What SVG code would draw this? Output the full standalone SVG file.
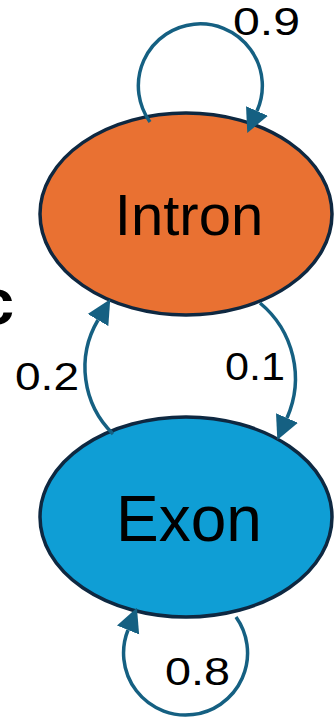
<svg xmlns="http://www.w3.org/2000/svg" width="334" height="718" viewBox="0 0 334 718">
  <style>
    .state { stroke: #0E2841; stroke-width: 3.5; }
    .name { font-family: "Liberation Sans", Arial, sans-serif; fill: #000; text-anchor: middle; }
    .edge { fill: none; stroke: #156082; stroke-width: 3.5; marker-end: url(#head); }
    .prob { font-family: "Liberation Sans", Arial, sans-serif; font-size: 38px; fill: #000; }
    .panel { font-family: "Liberation Sans", Arial, sans-serif; font-size: 64px; font-weight: bold; fill: #000; text-anchor: end; }
  </style>
  <defs>
    <marker id="head" viewBox="0 0 10 10" refX="0" refY="5" markerUnits="userSpaceOnUse" markerWidth="24" markerHeight="25" orient="auto">
      <path d="M0,0 L10,5 L0,10 z" fill="#156082"/>
    </marker>
  </defs>

  <!-- panel letter, partly past the left edge -->
  <text class="panel" x="14" y="324">c</text>

  <g id="intron">
    <ellipse class="state" cx="186" cy="214" rx="146" ry="101" fill="#E97132"/>
    <text class="name" x="189" y="235" font-size="58">Intron</text>
  </g>

  <g id="exon">
    <ellipse class="state" cx="186" cy="517" rx="146" ry="100" fill="#0F9ED5"/>
    <text class="name" x="189" y="541" font-size="64">Exon</text>
  </g>

  <g id="transitions">
    <!-- Intron self-loop -->
    <path class="edge" d="M150,122 A62,62 0 1 1 257,111"/>
    <!-- Intron to Exon -->
    <path class="edge" d="M260,303 A98,98 0 0 1 287,418"/>
    <!-- Exon to Intron -->
    <path class="edge" d="M113,434 A93,93 0 0 1 98,320"/>
    <!-- Exon self-loop -->
    <path class="edge" d="M236,617 A62,62 0 1 1 128,630"/>
  </g>

  <g id="probabilities">
    <text class="prob" x="233" y="35" textLength="67" lengthAdjust="spacingAndGlyphs">0.9</text>
    <text class="prob" x="225" y="380" textLength="60" lengthAdjust="spacingAndGlyphs">0.1</text>
    <text class="prob" x="15" y="390" textLength="64" lengthAdjust="spacingAndGlyphs">0.2</text>
    <text class="prob" x="165" y="685" textLength="65" lengthAdjust="spacingAndGlyphs">0.8</text>
  </g>
</svg>
